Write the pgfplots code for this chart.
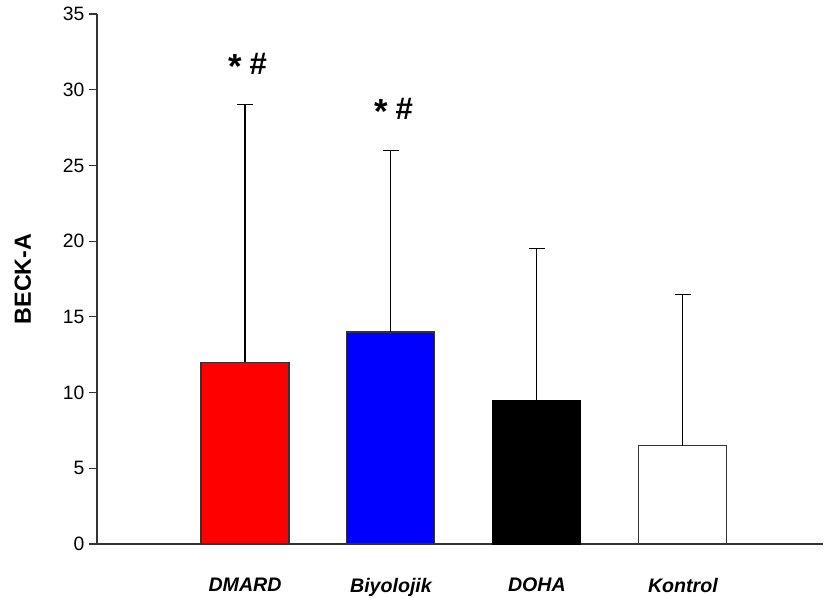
\documentclass[border=0pt]{standalone}
\usepackage{pgfplots}
\pgfplotsset{compat=1.18}
\usepackage{fontspec}
\setmainfont{Liberation Sans}
\newcommand{\sig}{\raisebox{-0.16em}{\scalebox{1.45}{*}}\hspace{0.3em}\scalebox{1.3}{\#}}
\begin{document}
\begin{tikzpicture}
\begin{axis}[
  scale only axis,
  width=544.5pt, height=397.5pt,
  xmin=-1.014, xmax=3.96,
  ymin=0, ymax=35,
  axis x line*=bottom, axis y line*=left,
  axis line style={line width=0.9pt, color=black!80},
  ytick={0,5,...,35},
  tick align=outside,
  major tick length=6pt,
  y tick style={line width=0.9pt, color=black!80},
  xtick={0,1,2,3},
  xticklabels={DMARD,Biyolojik,DOHA,Kontrol},
  x tick style={draw=none},
  x tick label style={font=\fontsize{14.7}{18}\selectfont\bfseries\itshape, yshift=-16pt},
  y tick label style={font=\fontsize{14.5}{17}\selectfont},
  /pgf/number format/assume math mode=true,
  ylabel={BECK-A},
  ylabel style={font=\fontsize{17.5}{20}\selectfont\bfseries, at={(axis description cs:-0.102,0.5)}, anchor=center},
  ybar, bar width=66pt, bar shift=0pt,
  every axis plot/.append style={line width=0.8pt},
  error bars/error bar style={black, line width=0.8pt},
  error bars/error mark options={black, line width=0.8pt, mark size=6pt, rotate=90},
  clip=false,
]
\addplot[fill=red, draw=black!80,
  error bars/.cd, y dir=plus, y explicit]
  coordinates {(0,12) +- (0,17)};
\addplot[fill=blue, draw=black!80,
  error bars/.cd, y dir=plus, y explicit]
  coordinates {(1,14) +- (0,12)};
\addplot[fill=black, draw=black,
  error bars/.cd, y dir=plus, y explicit]
  coordinates {(2,9.5) +- (0,10)};
\addplot[fill=white, draw=black!80,
  error bars/.cd, y dir=plus, y explicit]
  coordinates {(3,6.5) +- (0,10)};
\node[font=\fontsize{18}{22}\selectfont\bfseries] at (axis cs:0.02,31.6) {\sig};
\node[font=\fontsize{18}{22}\selectfont\bfseries] at (axis cs:1.02,28.6) {\sig};
\end{axis}
\pgfresetboundingbox
\path[use as bounding box] (-72.75pt,-40.5pt) rectangle (545.25pt,408pt);
\end{tikzpicture}
\end{document}
